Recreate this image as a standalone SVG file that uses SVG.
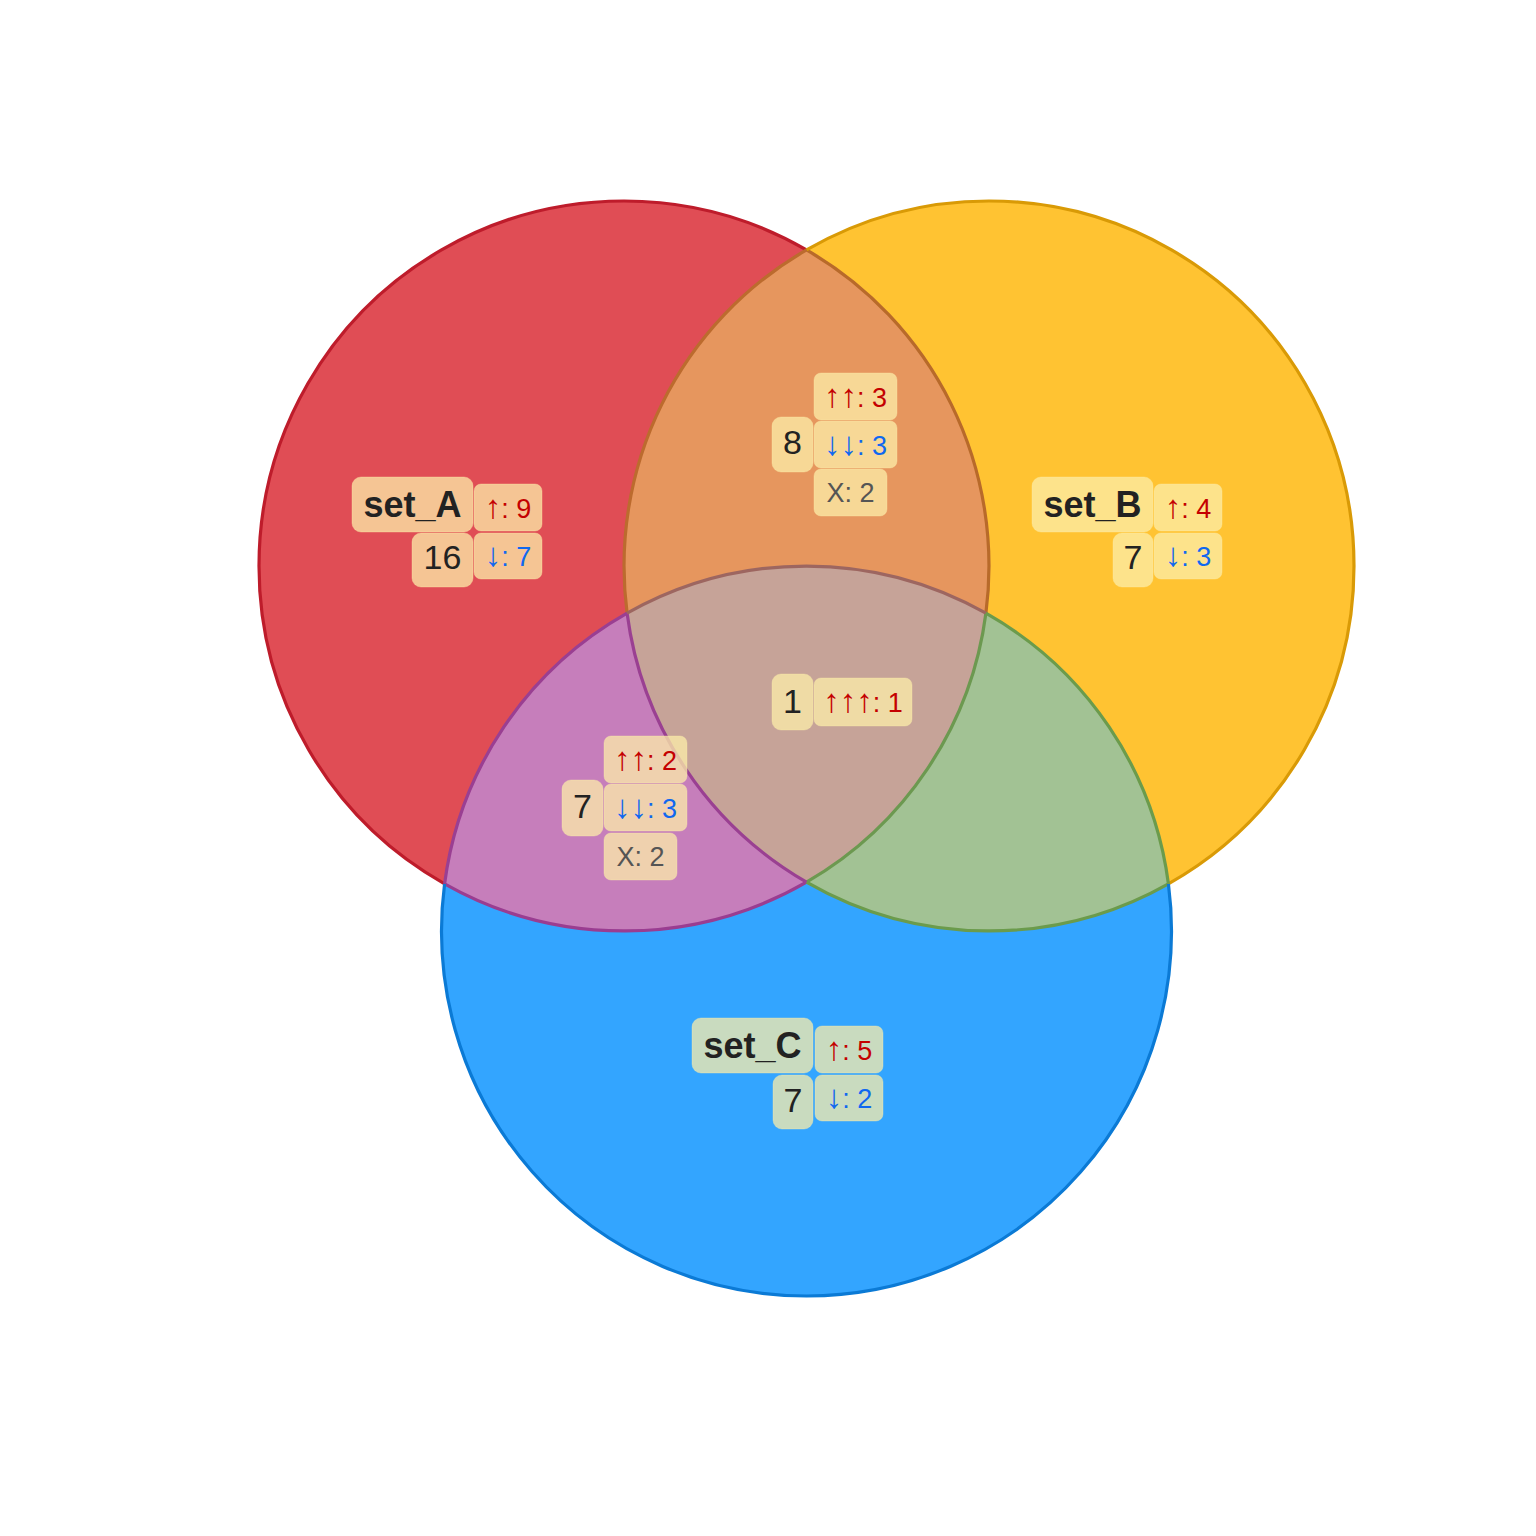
<svg xmlns="http://www.w3.org/2000/svg" width="1536" height="1536" viewBox="0 0 1536 1536">
<style>
.box{fill:#FCEDAA;fill-opacity:0.75;stroke:#FCEDAA;stroke-opacity:0.35;stroke-width:1}
.name{font-family:"Liberation Sans",Arial,sans-serif;font-weight:bold;font-size:36px;fill:#222;text-anchor:middle}
.num{font-family:"Liberation Sans",Arial,sans-serif;font-size:34px;fill:#222;text-anchor:middle}
.up,.dn,.x{font-family:"Liberation Sans",Arial,"DejaVu Sans",sans-serif;font-size:27px;text-anchor:middle}
.ar{font-size:33px}
.up{fill:#C40000}
.dn{fill:#1068F0}
.x{fill:#555}
.seg{fill:none;stroke-width:3.2}
</style>
<defs>
<clipPath id="clipA"><circle cx="624" cy="566" r="365"/></clipPath>
<clipPath id="clipB"><circle cx="989" cy="566" r="365"/></clipPath>
</defs>
<rect width="1536" height="1536" fill="#FFFFFF"/>
<g id="regions">
<circle id="set_A" cx="624" cy="566" r="365" fill="#E04D55"/>
<circle id="set_B" cx="989" cy="566" r="365" fill="#FFC332"/>
<circle id="set_C" cx="806.5" cy="931" r="365" fill="#33A5FF"/>
<circle id="AB" cx="989" cy="566" r="365" fill="#E6965E" clip-path="url(#clipA)"/>
<circle id="AC" cx="806.5" cy="931" r="365" fill="#C67EBB" clip-path="url(#clipA)"/>
<circle id="BC" cx="806.5" cy="931" r="365" fill="#A2C294" clip-path="url(#clipB)"/>
<g clip-path="url(#clipB)"><circle id="ABC" cx="806.5" cy="931" r="365" fill="#C6A398" clip-path="url(#clipA)"/></g>
</g>
<g id="outlines">
<path class="seg" stroke="#BE1C2B" d="M806.5,249.9 A365,365 0 0 0 259,566 A365,365 0 0 0 444.6,883.8"/>
<path class="seg" stroke="#9A3D91" d="M444.6,883.8 A365,365 0 0 0 806.5,882.1"/>
<path class="seg" stroke="#6C9950" d="M806.5,882.1 A365,365 0 0 0 985.9,613.2"/>
<path class="seg" stroke="#B86A2A" d="M985.9,613.2 A365,365 0 0 0 806.5,249.9"/>
<path class="seg" stroke="#D99A06" d="M806.5,249.9 A365,365 0 0 1 1354,566 A365,365 0 0 1 1168.4,883.8"/>
<path class="seg" stroke="#6B9B4C" d="M1168.4,883.8 A365,365 0 0 1 806.5,882.1"/>
<path class="seg" stroke="#9A4092" d="M806.5,882.1 A365,365 0 0 1 627.1,613.2"/>
<path class="seg" stroke="#BC6B2E" d="M627.1,613.2 A365,365 0 0 1 806.5,249.9"/>
<path class="seg" stroke="#0B7AD5" d="M1168.4,883.8 A365,365 0 0 1 806.5,1296 A365,365 0 0 1 444.6,883.8"/>
<path class="seg" stroke="#9A3F92" d="M444.6,883.8 A365,365 0 0 1 627.1,613.2"/>
<path class="seg" stroke="#9D6660" d="M627.1,613.2 A365,365 0 0 1 985.9,613.2"/>
<path class="seg" stroke="#6B9B4C" d="M985.9,613.2 A365,365 0 0 1 1168.4,883.8"/>
</g>
<g id="label_A">
<rect class="box" x="352" y="477" width="121" height="55" rx="9"/>
<text class="name" x="412.5" y="517">set_A</text>
<rect class="box" x="474" y="484" width="68" height="47" rx="7"/>
<text class="up" x="508" y="518"><tspan class="ar">↑</tspan>: 9</text>
<rect class="box" x="412" y="533" width="61" height="54" rx="9"/>
<text class="num" x="442.5" y="569">16</text>
<rect class="box" x="474" y="533" width="68" height="46" rx="7"/>
<text class="dn" x="508" y="566"><tspan class="ar">↓</tspan>: 7</text>
</g>
<g id="label_B">
<rect class="box" x="1032" y="477" width="121" height="55" rx="9"/>
<text class="name" x="1092.5" y="517">set_B</text>
<rect class="box" x="1154" y="484" width="68" height="47" rx="7"/>
<text class="up" x="1188" y="518"><tspan class="ar">↑</tspan>: 4</text>
<rect class="box" x="1113" y="533" width="40" height="54" rx="9"/>
<text class="num" x="1133" y="569">7</text>
<rect class="box" x="1154" y="533" width="68" height="46" rx="7"/>
<text class="dn" x="1188" y="566"><tspan class="ar">↓</tspan>: 3</text>
</g>
<g id="label_C">
<rect class="box" x="692" y="1018" width="121" height="55" rx="9"/>
<text class="name" x="752.5" y="1058">set_C</text>
<rect class="box" x="815" y="1026" width="68" height="47" rx="7"/>
<text class="up" x="849" y="1060"><tspan class="ar">↑</tspan>: 5</text>
<rect class="box" x="773" y="1075" width="40" height="54" rx="9"/>
<text class="num" x="793" y="1112">7</text>
<rect class="box" x="815" y="1075" width="68" height="46" rx="7"/>
<text class="dn" x="849" y="1108"><tspan class="ar">↓</tspan>: 2</text>
</g>
<g id="label_AB">
<rect class="box" x="814" y="373" width="83" height="47" rx="7"/>
<text class="up" x="855.5" y="407"><tspan class="ar">↑↑</tspan>: 3</text>
<rect class="box" x="772" y="417" width="41" height="55" rx="9"/>
<text class="num" x="792.5" y="454">8</text>
<rect class="box" x="814" y="421" width="83" height="47" rx="7"/>
<text class="dn" x="855.5" y="455"><tspan class="ar">↓↓</tspan>: 3</text>
<rect class="box" x="814" y="469" width="73" height="47" rx="7"/>
<text class="x" x="850.5" y="502">X: 2</text>
</g>
<g id="label_AC">
<rect class="box" x="604" y="736" width="83" height="47" rx="7"/>
<text class="up" x="645.5" y="770"><tspan class="ar">↑↑</tspan>: 2</text>
<rect class="box" x="562" y="780" width="41" height="56" rx="9"/>
<text class="num" x="582.5" y="818">7</text>
<rect class="box" x="604" y="784" width="83" height="47" rx="7"/>
<text class="dn" x="645.5" y="818"><tspan class="ar">↓↓</tspan>: 3</text>
<rect class="box" x="604" y="833" width="73" height="47" rx="7"/>
<text class="x" x="640.5" y="866">X: 2</text>
</g>
<g id="label_ABC">
<rect class="box" x="772" y="674" width="41" height="56" rx="9"/>
<text class="num" x="792.5" y="713">1</text>
<rect class="box" x="814" y="678" width="98" height="48" rx="7"/>
<text class="up" x="863" y="712"><tspan class="ar">↑↑↑</tspan>: 1</text>
</g>
</svg>
